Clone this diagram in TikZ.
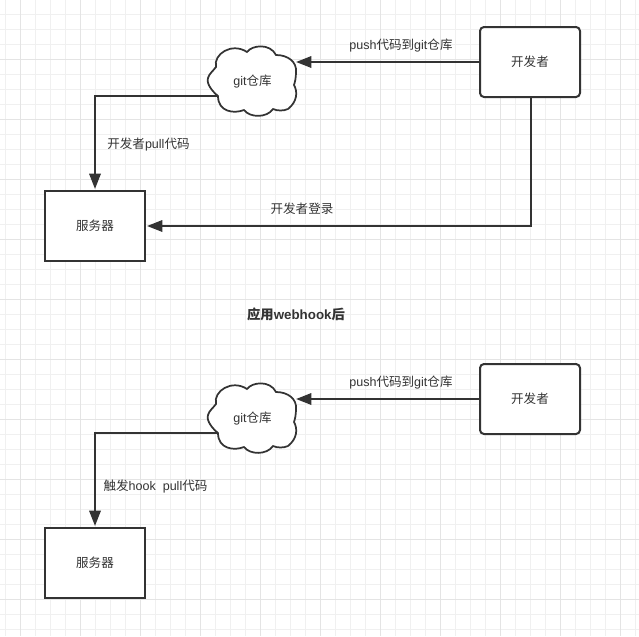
\documentclass[tikz,border=0pt]{standalone}
\usepackage{fontspec}
\usetikzlibrary{arrows.meta}
\setmainfont{Liberation Sans}
\newfontfamily\cjk{Noto Sans CJK SC}
\definecolor{ink}{HTML}{333333}
\definecolor{gridminor}{HTML}{F0F0F0}
\definecolor{gridmajor}{HTML}{E4E4E4}
\tikzset{
  x=0.75pt,y=-0.75pt,
  flow/.style={draw=ink,line width=1.7pt,-{Triangle[length=11.5pt,width=8.5pt]}},
  devbox/.style={draw=ink,line width=1.5pt,fill=white,rounded corners=3pt,minimum width=75pt,minimum height=52.5pt,inner sep=0pt,text=ink,font=\fontsize{9.4}{11}\selectfont},
  srvbox/.style={draw=ink,line width=1.5pt,fill=white,minimum width=75pt,minimum height=52.5pt,inner sep=0pt,text=ink,font=\fontsize{9.4}{11}\selectfont},
  lbl/.style={text=ink,inner sep=0pt,font=\fontsize{9.4}{11}\selectfont},
  titlelbl/.style={text=ink,inner sep=0pt,font=\fontsize{10}{12}\selectfont\bfseries},
  cloud outline/.pic={
    \draw[draw=ink,line width=1.3pt,fill=white]
      (218,96) .. controls (213,92) and (206,84) .. (208,78)
      .. controls (209,74) and (213,71) .. (216,67)
      .. controls (213,54) and (232,42) .. (247,52)
      .. controls (252,45) and (270,43) .. (276,55)
      .. controls (288,55) and (297,62) .. (296,72)
      .. controls (296,78) and (295,82) .. (294,85)
      .. controls (298,92) and (297,102) .. (288,109)
      .. controls (284,111) and (277,111) .. (273,109)
      .. controls (267,118) and (250,118) .. (244,110)
      .. controls (234,114) and (218,112) .. (218,96) -- cycle;
    \coordinate (-west) at (218,96);
    \coordinate (-east) at (296,62);
  }
}
\begin{document}
\begin{tikzpicture}
\useasboundingbox (0,0) rectangle (639,636);
\fill[white] (0,0) rectangle (639,636);
\foreach \i in {0,...,43} {\draw[gridminor,line width=0.75pt] ({5+15*\i},0) -- ({5+15*\i},636);}
\foreach \i in {0,...,42} {\draw[gridminor,line width=0.75pt] (0,{14+15*\i}) -- (639,{14+15*\i});}
\foreach \i in {0,...,10} {\draw[gridmajor,line width=0.75pt] ({20+60*\i},0) -- ({20+60*\i},636);}
\foreach \i in {0,...,10} {\draw[gridmajor,line width=0.75pt] (0,{-1+60*\i}) -- (639,{-1+60*\i});}

% upper diagram
\pic (ca) at (0,0) {cloud outline};
\node[lbl] (cat) at (252.5,81.5) {git{\cjk 仓库}};
\node[devbox] (deva) at (530,62) {\raisebox{-0.6pt}{\cjk 开发者}};
\node[srvbox] (srva) at (95,226) {\raisebox{-0.6pt}{\cjk 服务器}};
\coordinate (srvatop) at (95,189);
\coordinate (srvaeast) at (147,226);
\coordinate (devasouth) at (531,97);
\draw[flow] (deva.west) -- (ca-east);
\draw[flow] (ca-west) -| (srvatop);
\draw[flow] (devasouth) |- (srvaeast);
\node[lbl] (la1) at (401,45.5) {push{\cjk 代码到}git{\cjk 仓库}};
\node[lbl] (la2) at (148.5,144.5) {{\cjk 开发者}pull{\cjk 代码}};
\node[lbl] (la3) at (302,208.5) {{\cjk 开发者登录}};

\node[titlelbl] (title) at (296,314) {{\cjk\bfseries 应用}webhook{\cjk\bfseries 后}};

% lower diagram
\pic (cb) at (0,337) {cloud outline};
\node[lbl] (cbt) at (252.5,418.5) {git{\cjk 仓库}};
\node[devbox] (devb) at (530,399) {\raisebox{-0.6pt}{\cjk 开发者}};
\node[srvbox] (srvb) at (95,563) {\raisebox{-0.6pt}{\cjk 服务器}};
\coordinate (srvbtop) at (95,526);
\draw[flow] (devb.west) -- (cb-east);
\draw[flow] (cb-west) -| (srvbtop);
\node[lbl] (lb1) at (401,382.5) {push{\cjk 代码到}git{\cjk 仓库}};
\node[lbl] (lb2) at (155.5,487) {{\cjk 触发}hook\ \ pull{\cjk 代码}};
\end{tikzpicture}
\end{document}
